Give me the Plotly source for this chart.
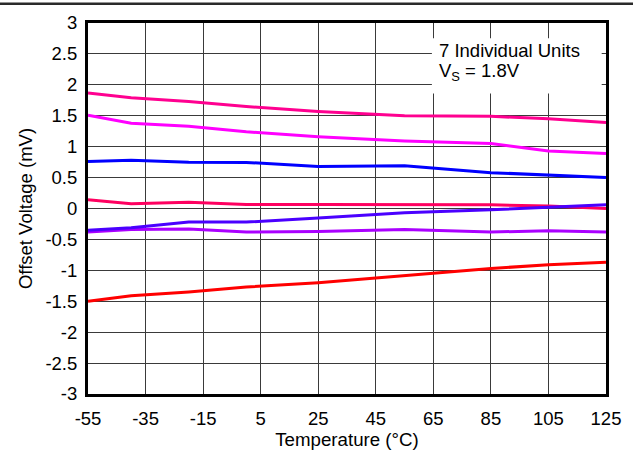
import plotly.graph_objects as go

# ---- data ----
temperature = [-55, -40, -20, 0, 25, 55, 85, 105, 125]
unit1 = [1.87, 1.79, 1.73, 1.65, 1.57, 1.50, 1.49, 1.45, 1.39]
unit2 = [1.51, 1.38, 1.33, 1.24, 1.16, 1.09, 1.05, 0.93, 0.89]
unit3 = [0.76, 0.78, 0.75, 0.745, 0.68, 0.69, 0.58, 0.54, 0.50]
unit4 = [0.14, 0.075, 0.10, 0.065, 0.065, 0.06, 0.06, 0.04, 0.0]
unit5 = [-0.35, -0.31, -0.22, -0.22, -0.155, -0.07, -0.02, 0.02, 0.06]
unit6 = [-0.38, -0.34, -0.33, -0.38, -0.37, -0.34, -0.38, -0.36, -0.38]
unit7 = [-1.50, -1.41, -1.35, -1.27, -1.20, -1.085, -0.97, -0.91, -0.87]

series = [unit1, unit2, unit3, unit4, unit7, unit6, unit5]
colors = ["#FF0090", "#FF00FF", "#0000FF", "#FF0060", "#FF0000", "#AA00FF", "#4A00FF"]

x_ticks = [-55, -35, -15, 5, 25, 45, 65, 85, 105, 125]
y_ticks = [-3, -2.5, -2, -1.5, -1, -0.5, 0, 0.5, 1, 1.5, 2, 2.5, 3]

legend_lines = ["7 Individual Units", "V<sub>S</sub> = 1.8V"]

FONT = "Liberation Sans, Arial, sans-serif"

fig = go.Figure()
for vals, col in zip(series, colors):
    fig.add_trace(go.Scatter(x=temperature, y=vals, mode="lines",
                             line=dict(color=col, width=3), showlegend=False))

W, H = 633, 456
ml, mr, mt, mb = 88, 27, 23, 59
pw, ph = W - ml - mr, H - mt - mb

fig.update_layout(
    width=W, height=H,
    margin=dict(l=ml, r=mr, t=mt, b=mb),
    paper_bgcolor="white", plot_bgcolor="white",
    font=dict(family=FONT, size=18, color="black"),
    showlegend=False,
)
fig.update_xaxes(
    range=[-55, 125], tickvals=x_ticks, ticktext=[str(v) for v in x_ticks],
    showgrid=True, gridcolor="#3a3a3a", gridwidth=1,
    showline=True, linecolor="black", linewidth=3, mirror=True,
    ticks="outside", ticklen=6, tickcolor="rgba(0,0,0,0)",
    zeroline=False,
    title=dict(text="Temperature (°C)", font=dict(size=18.7), standoff=2),
    tickfont=dict(size=18.5),
)
fig.update_yaxes(
    range=[-3, 3], tickvals=y_ticks, ticktext=[f"{v:g}" for v in y_ticks],
    showgrid=True, gridcolor="#3a3a3a", gridwidth=1,
    showline=True, linecolor="black", linewidth=3, mirror=True,
    ticks="outside", ticklen=4, tickcolor="rgba(0,0,0,0)",
    zeroline=False,
    title=dict(text="Offset Voltage (mV)", font=dict(size=18.5), standoff=8),
    tickfont=dict(size=18.5),
)

# white legend box and text
fig.add_shape(type="rect", xref="x", yref="y", x0=64.5, x1=123.5, y0=1.86, y1=2.755,
              fillcolor="white", line=dict(width=0), layer="above")
fig.add_annotation(xref="x", yref="y", x=66.3, y=2.56, xanchor="left", yanchor="middle",
                   text=legend_lines[0], showarrow=False, font=dict(size=18.5))
fig.add_annotation(xref="x", yref="y", x=66.3, y=2.215, xanchor="left", yanchor="middle",
                   text=legend_lines[1], showarrow=False, font=dict(size=18.5))

# top rule across the page
fig.add_shape(type="line", xref="paper", yref="paper",
              x0=-ml / pw, x1=(W - ml) / pw, y0=(H - mb - 3.5) / ph, y1=(H - mb - 3.5) / ph,
              line=dict(color="#2a2a2a", width=2.5), layer="above")

fig.write_html(
    "out.html",
    config={"displayModeBar": False},
    post_script="document.body.style.margin='0';document.body.style.padding='0';"
                "document.body.style.overflow='hidden';",
)
